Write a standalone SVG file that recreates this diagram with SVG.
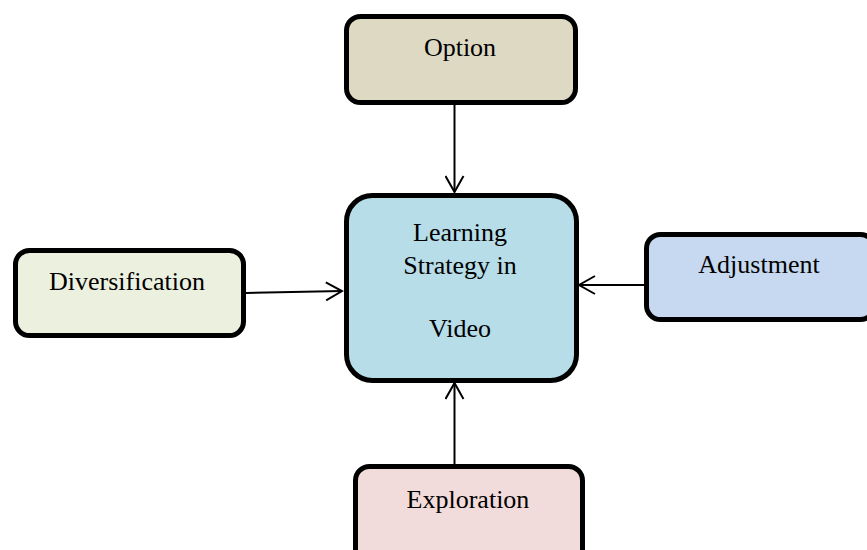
<svg xmlns="http://www.w3.org/2000/svg" width="867" height="550" viewBox="0 0 867 550">
<style>
.box{stroke:#000;stroke-width:5}
.t{font-family:"Liberation Serif","Times New Roman",serif;font-size:26px;fill:#000;text-anchor:middle}
.c{stroke:#000;stroke-width:2;fill:none}
</style>
<defs>
<marker id="ah" viewBox="0 0 20 20" refX="18" refY="10" markerWidth="20" markerHeight="20" markerUnits="userSpaceOnUse" orient="auto">
<path d="M2,1 L18,10 L2,19" fill="none" stroke="#000" stroke-width="2"/>
</marker>
</defs>
<rect width="867" height="550" fill="#fff"/>
<g id="option">
<rect class="box" x="346.5" y="16.5" width="229" height="86" rx="14" fill="#DDD9C3"/>
<text class="t" x="460" y="56">Option</text>
</g>
<g id="center">
<rect class="box" x="346.5" y="195.5" width="230" height="185" rx="26" fill="#B7DDE8"/>
<text class="t" x="460" y="241">Learning</text>
<text class="t" x="460" y="274">Strategy in</text>
<text class="t" x="460" y="337">Video</text>
</g>
<g id="diversification">
<rect class="box" x="15.5" y="250.5" width="228" height="85" rx="14" fill="#EBF1DE"/>
<text class="t" x="127" y="290">Diversification</text>
</g>
<g id="adjustment">
<rect class="box" x="646.5" y="234.5" width="228" height="85" rx="14" fill="#C6D9F1"/>
<text class="t" x="759" y="273">Adjustment</text>
</g>
<g id="exploration">
<rect class="box" x="355.5" y="466.5" width="227" height="100" rx="14" fill="#F2DCDB"/>
<text class="t" x="468" y="508">Exploration</text>
</g>
<g id="connectors">
<line class="c" x1="454.5" y1="104" x2="454.5" y2="192" marker-end="url(#ah)"/>
<line class="c" x1="246" y1="293" x2="342" y2="291" marker-end="url(#ah)"/>
<line class="c" x1="644" y1="285" x2="579" y2="285" marker-end="url(#ah)"/>
<line class="c" x1="454.5" y1="465" x2="454.5" y2="383" marker-end="url(#ah)"/>
</g>
</svg>
